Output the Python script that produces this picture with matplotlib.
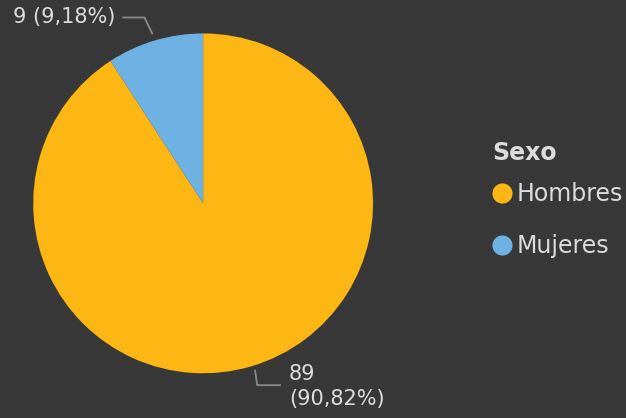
import matplotlib.pyplot as plt
from matplotlib.lines import Line2D

# data
categories = ['Hombres', 'Mujeres']
values = [89, 9]
colors = ['#FDB714', '#6DB2E2']
bg = '#383838'
txt = '#DCDCDC'

plt.rcParams['font.family'] = ['DejaVu Sans']

fig = plt.figure(figsize=(6.26, 4.18), dpi=100, facecolor=bg)
ax = fig.add_axes([0.053, 0.107, 0.543, 0.813])
ax.set_facecolor(bg)

wedges, _ = ax.pie(values, colors=colors, startangle=90, counterclock=False,
                   radius=1, wedgeprops=dict(linewidth=0))
ax.set_xlim(-1, 1)
ax.set_ylim(-1, 1)
ax.set_aspect('equal')
ax.axis('off')

total = sum(values)
pct = [v / total * 100 for v in values]
lbl = [f'{v}\n({p:.2f}%)'.replace('.', ',') for v, p in zip(values, pct)]

# Mujeres label, top left
ax.plot([-0.47, -0.345, -0.3], [1.094, 1.094, 1.0], color='#8a8a8a', lw=1.3, clip_on=False)
ax.text(-0.515, 1.094, lbl[1].replace('\n', ' '), ha='right', va='center',
        color=txt, fontsize=15, clip_on=False)

# Hombres label, bottom
ax.plot([0.306, 0.318, 0.453], [-0.985, -1.07, -1.07], color='#8a8a8a', lw=1.3, clip_on=False)
ax.text(0.505, -1.076, lbl[0], ha='left', va='center', color=txt,
        fontsize=15, linespacing=1.3, clip_on=False)

# legend: title drawn apart so the gap to the first row can be set
fig.text(492 / 626, 1 - 153 / 418, 'Sexo', ha='left', va='center',
         color=txt, fontsize=17, fontweight='bold')
handles = [Line2D([], [], marker='o', ls='', markersize=14.5, markerfacecolor=c,
                  markeredgewidth=0) for c in colors]
leg = fig.legend(handles, categories, loc='upper left',
                 bbox_to_anchor=(0.791, 0.565), frameon=False, labelcolor=txt,
                 fontsize=17, handlelength=0.6, handletextpad=0.3,
                 labelspacing=1.2, borderaxespad=0, borderpad=0)

fig.savefig('out.png', facecolor=bg)
